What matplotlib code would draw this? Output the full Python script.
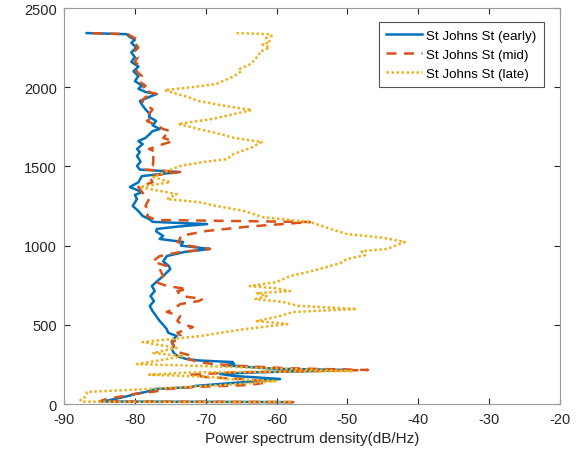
import matplotlib
matplotlib.use("Agg")
import matplotlib.pyplot as plt

plt.rcParams["font.family"] = ["Liberation Sans", "DejaVu Sans"]
plt.rcParams["axes.unicode_minus"] = False

# frequency (Hz) on the vertical axis, PSD (dB/Hz) on the horizontal axis
early_freq = [12, 16, 32, 50, 63, 76, 95, 107, 114, 130, 145, 158, 170, 177, 190, 200, 208, 215,
              222, 234, 245, 253, 265, 275, 284, 295, 303, 322, 347, 366, 391, 410, 429, 450,
              473, 500, 524, 556, 587, 619, 650, 682, 713, 745, 770, 808, 852, 871, 900, 934,
              960, 979, 1000, 1023, 1042, 1061, 1090, 1105, 1120, 1136, 1150, 1168, 1187, 1218,
              1250, 1294, 1320, 1338, 1370, 1400, 1439, 1465, 1480, 1503, 1530, 1566, 1591,
              1610, 1641, 1660, 1680, 1705, 1723, 1736, 1760, 1787, 1813, 1831, 1860, 1890,
              1913, 1938, 1957, 1970, 1990, 2010, 2039, 2070, 2100, 2130, 2160, 2190, 2220,
              2250, 2280, 2300, 2317, 2335, 2342]
early_psd = [-58.0, -84.5, -82.8, -81.0, -80.0, -78.5, -77.0, -72.0, -71.5, -67.0, -62.5, -59.5,
             -63.5, -66.0, -68.0, -63.0, -55.0, -50.0, -60.0, -64.0, -67.5, -66.0, -66.2, -71.0,
             -72.7, -73.5, -74.0, -74.5, -74.8, -74.5, -74.8, -74.6, -74.1, -75.3, -75.5, -76.0,
             -76.5, -77.0, -77.5, -77.9, -77.3, -77.8, -77.2, -77.6, -77.0, -76.0, -75.0, -75.2,
             -76.0, -75.5, -73.0, -69.4, -73.5, -73.2, -76.5, -76.0, -77.0, -76.9, -74.0, -69.8,
             -77.5, -78.0, -78.9, -79.5, -80.3, -79.7, -80.0, -79.0, -80.7, -79.5, -79.0, -73.8,
             -79.3, -79.7, -79.2, -79.7, -79.3, -79.7, -78.9, -79.5, -78.5, -77.9, -77.5, -76.5,
             -77.5, -77.0, -78.0, -77.9, -78.5, -79.0, -79.3, -78.0, -76.9, -78.5, -79.5, -79.0,
             -80.0, -79.5, -80.2, -79.5, -80.5, -80.0, -80.5, -79.8, -80.5, -80.0, -80.7, -81.2,
             -86.8]

mid_freq = [12, 16, 32, 50, 63, 80, 95, 107, 120, 135, 145, 158, 170, 185, 200, 208, 215, 225,
            240, 253, 265, 284, 303, 322, 347, 366, 391, 410, 429, 450, 486, 505, 524, 556,
            581, 600, 631, 650, 663, 682, 713, 726, 745, 770, 808, 852, 871, 900, 934, 960,
            979, 1000, 1023, 1042, 1061, 1092, 1120, 1149, 1162, 1187, 1218, 1250, 1294, 1338,
            1370, 1400, 1439, 1465, 1480, 1503, 1528, 1566, 1591, 1610, 1641, 1660, 1680, 1705,
            1723, 1736, 1760, 1787, 1813, 1831, 1860, 1890, 1913, 1938, 1957, 1970, 1990, 2010,
            2039, 2070, 2100, 2130, 2160, 2190, 2220, 2250, 2280, 2300, 2317, 2335, 2342]
mid_psd = [-57.5, -85.0, -84.0, -81.5, -80.0, -77.0, -75.5, -71.8, -64.0, -61.5, -62.0, -65.0,
           -70.0, -72.0, -66.0, -55.0, -47.1, -58.0, -65.0, -69.0, -71.0, -72.5, -71.8, -73.5,
           -74.0, -74.5, -74.8, -73.6, -73.5, -74.0, -71.8, -73.5, -74.0, -73.6, -75.5, -74.5,
           -73.6, -71.0, -70.4, -73.5, -74.0, -72.6, -75.5, -77.0, -76.0, -76.5, -75.5, -77.5,
           -76.5, -73.5, -69.4, -72.5, -74.0, -73.6, -73.6, -70.0, -64.0, -55.3, -77.0, -78.3,
           -77.9, -78.5, -78.0, -79.0, -79.5, -77.5, -78.0, -73.6, -78.5, -77.5, -77.4, -77.4,
           -77.0, -78.0, -76.0, -74.6, -76.0, -75.5, -75.0, -76.0, -77.0, -78.3, -77.5, -78.0,
           -77.5, -78.5, -79.0, -78.5, -77.0, -78.0, -79.0, -78.5, -79.5, -79.0, -79.8, -79.2,
           -80.0, -79.6, -80.2, -79.5, -80.0, -79.6, -80.3, -81.0, -86.8]

late_freq = [12, 15, 25, 45, 63, 76, 95, 114, 130, 145, 158, 170, 185, 200, 208, 234, 252, 280,
             303, 322, 354, 391, 429, 470, 505, 524, 556, 581, 600, 620, 644, 663, 682, 700,
             713, 730, 745, 770, 808, 840, 865, 890, 915, 940, 965, 979, 1023, 1050, 1073,
             1100, 1149, 1180, 1218, 1250, 1275, 1294, 1325, 1350, 1370, 1401, 1433, 1460,
             1503, 1530, 1546, 1580, 1620, 1654, 1680, 1705, 1736, 1768, 1800, 1831, 1856,
             1880, 1913, 1938, 1957, 1982, 2000, 2020, 2039, 2070, 2100, 2115, 2150, 2178,
             2200, 2222, 2250, 2270, 2285, 2310, 2325, 2335, 2342]
late_psd = [-58.0, -87.5, -87.7, -87.0, -86.8, -86.8, -78.0, -70.0, -64.0, -60.0, -67.0, -68.5,
            -78.0, -72.0, -49.2, -66.2, -79.7, -76.0, -73.2, -77.4, -74.1, -78.9, -70.8, -65.0,
            -58.5, -62.8, -59.5, -57.7, -48.7, -57.0, -59.1, -63.0, -61.4, -62.8, -58.1, -60.0,
            -63.8, -60.0, -58.1, -55.0, -52.9, -51.0, -50.1, -47.5, -48.0, -44.4, -41.9, -45.0,
            -50.1, -52.0, -55.3, -62.0, -64.5, -68.5, -71.0, -75.5, -74.1, -77.0, -79.3, -75.0,
            -77.4, -76.0, -73.6, -70.0, -67.0, -66.0, -63.5, -62.1, -66.0, -68.0, -71.0, -73.9,
            -69.0, -66.0, -63.5, -67.0, -71.0, -72.5, -74.0, -75.8, -72.0, -68.5, -67.6, -66.0,
            -65.0, -65.2, -63.5, -63.1, -62.5, -62.4, -61.0, -62.0, -60.9, -61.5, -60.7, -61.0,
            -65.9]

fig = plt.figure(figsize=(5.84, 4.56), dpi=100)
ax = fig.add_axes([0.1096, 0.1118, 0.8494, 0.8684])

ax.plot(early_psd, early_freq, color="#0072BD", lw=1.8, ls="-", label="St Johns St (early)")
ax.plot(mid_psd, mid_freq, color="#D95319", lw=1.8, ls=(0, (4, 3)), label="St Johns St (mid)")
ax.plot(late_psd, late_freq, color="#EDB120", lw=1.8, ls=(0, (1, 1)), label="St Johns St (late)")

ax.set_xlim(-90, -20)
ax.set_ylim(0, 2500)
ax.set_xticks(range(-90, -19, 10))
ax.set_yticks(range(0, 2501, 500))
ax.set_xlabel("Power spectrum density(dB/Hz)", fontsize=11, color="#262626", labelpad=3)
ax.tick_params(direction="in", length=4, labelsize=10.5, colors="#262626", top=True, right=True)
ax.tick_params(axis="x", pad=6)
ax.tick_params(axis="y", pad=5)
for s in ax.spines.values():
    s.set_color("#9a9a9a")
    s.set_linewidth(0.8)

leg = ax.legend(loc="upper right", bbox_to_anchor=(0.968, 0.965), borderaxespad=0,
                fontsize=9.6, frameon=True, fancybox=False, handlelength=2.7,
                labelspacing=0.5, borderpad=0.55, handletextpad=0.3)
leg.get_frame().set_edgecolor("#262626")
leg.get_frame().set_linewidth(0.8)

fig.savefig("out.png", dpi=100)
